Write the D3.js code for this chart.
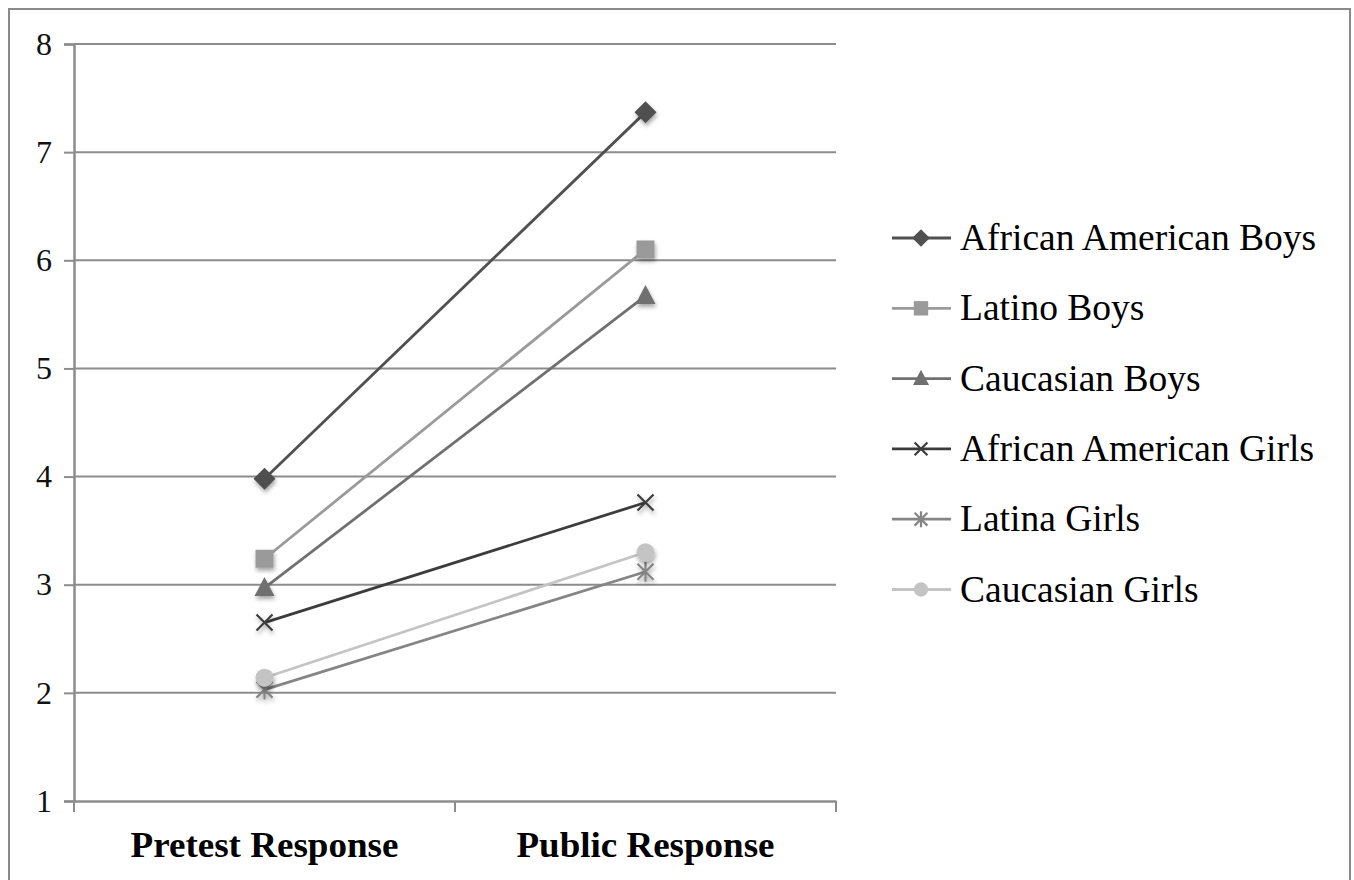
<!DOCTYPE html>
<html><head><meta charset="utf-8">
<script src="https://cdn.jsdelivr.net/npm/d3@7/dist/d3.min.js"></script>
<style>body{margin:0;background:#fff}svg{display:block}</style>
</head><body>
<svg id="c" width="1354" height="880"></svg>
<script>
const categories = ["Pretest Response", "Public Response"];
const seriesNames = ["African American Boys","Latino Boys","Caucasian Boys","African American Girls","Latina Girls","Caucasian Girls"];
const pretestValues = [3.98, 3.24, 2.97, 2.65, 2.03, 2.14];
const publicValues  = [7.37, 6.10, 5.67, 3.76, 3.12, 3.30];
const yTicks = [1,2,3,4,5,6,7,8];
const seriesColors = ["#505050","#9a9a9a","#707070","#3c3c3c","#858585","#c4c4c4"];
const seriesSymbols = ["diamond","square","triangle","x","star","circle"];

const svg = d3.select("#c");
const defs = svg.append("defs");
const f = defs.append("filter").attr("id","sh").attr("x","-50%").attr("y","-50%").attr("width","200%").attr("height","200%");
f.append("feDropShadow").attr("dx",1).attr("dy",3).attr("stdDeviation",2).attr("flood-color","#000").attr("flood-opacity",0.35);

// frame
svg.append("rect").attr("x",9).attr("y",9).attr("width",1341).attr("height",900)
  .attr("fill","none").attr("stroke","#8a8a8a").attr("stroke-width",2);

const L=74, R=836, T=44, B=801;
const y = d3.scaleLinear().domain([1,8]).range([B,T]);
const x = d3.scaleBand().domain(categories).range([L,R]);
const gridC = "#8c8c8c";

// gridlines
svg.append("g").selectAll("line").data(yTicks.filter(d=>d>1)).join("line")
  .attr("x1",L).attr("x2",R).attr("y1",d=>y(d)).attr("y2",d=>y(d))
  .attr("stroke",gridC).attr("stroke-width",2);

// y axis
const ya = svg.append("g").attr("transform",`translate(${L},0)`)
  .call(d3.axisLeft(y).tickValues(yTicks).tickSize(10).tickPadding(12).tickFormat(d3.format("d")));
ya.attr("font-family",null).attr("font-size",null);
ya.select(".domain").attr("stroke",gridC).attr("stroke-width",2.5);
ya.selectAll(".tick line").attr("stroke",gridC).attr("stroke-width",2);
ya.selectAll(".tick text")
  .style("font-family","'Liberation Serif', serif").style("font-size","32px").style("fill","#111");

// x axis
const xa = svg.append("g").attr("transform",`translate(0,${B})`)
  .call(d3.axisBottom(x).tickSize(0).tickPadding(0));
xa.select(".domain").attr("stroke",gridC).attr("stroke-width",2.5);
xa.selectAll(".tick text").attr("font-family","Liberation Serif, serif").attr("font-weight","bold")
  .attr("font-size",36).attr("fill","#000").attr("dy",0).attr("y",56)
  .attr("textLength",(d,i)=>i===0?268:258).attr("lengthAdjust","spacingAndGlyphs");
// category boundary ticks
const bounds = [L, L + x.bandwidth(), R];
svg.append("g").selectAll("line").data(bounds).join("line")
  .attr("x1",d=>d).attr("x2",d=>d).attr("y1",B).attr("y2",B+11)
  .attr("stroke",gridC).attr("stroke-width",2);

const cx = c => x(c) + x.bandwidth()/2;
const data = seriesNames.map((n,i)=>({name:n,color:seriesColors[i],sym:seriesSymbols[i],
  vals:[{c:categories[0],v:pretestValues[i]},{c:categories[1],v:publicValues[i]}]}));

function drawMarker(g, sym, color, s){
  s = s || 1;
  if(sym==="diamond") g.append("path").attr("d",`M0,${-11*s}L${11*s},0L0,${11*s}L${-11*s},0Z`).attr("fill",color);
  else if(sym==="square") g.append("rect").attr("x",-9*s).attr("y",-9*s).attr("width",18*s).attr("height",18*s).attr("fill",color);
  else if(sym==="triangle") g.append("path").attr("d",`M0,${-11*s}L${10*s},${8*s}L${-10*s},${8*s}Z`).attr("fill",color);
  else if(sym==="circle") g.append("circle").attr("r",9*s).attr("fill",color);
  else if(sym==="x") g.append("path").attr("d",`M${-8*s},${-8*s}L${8*s},${8*s}M${-8*s},${8*s}L${8*s},${-8*s}`).attr("stroke",color).attr("stroke-width",2.2);
  else if(sym==="star") g.append("path").attr("d",`M${-8*s},${-8*s}L${8*s},${8*s}M${-8*s},${8*s}L${8*s},${-8*s}M0,${-10*s}L0,${10*s}`).attr("stroke",color).attr("stroke-width",2.2);
}

const line = d3.line().x(d=>cx(d.c)).y(d=>y(d.v));
data.forEach(s=>{
  svg.append("path").datum(s.vals).attr("d",line).attr("fill","none")
    .attr("stroke",s.color).attr("stroke-width",2.8);
});
data.forEach(s=>{
  s.vals.forEach(d=>{
    const g = svg.append("g").attr("transform",`translate(${cx(d.c)},${y(d.v)})`).attr("filter","url(#sh)");
    drawMarker(g, s.sym, s.color, 1);
  });
});

// legend
const lg = svg.append("g");
data.forEach((s,i)=>{
  const yy = 238 + i*70.3;
  lg.append("line").attr("x1",892).attr("x2",951).attr("y1",yy).attr("y2",yy).attr("stroke",s.color).attr("stroke-width",2.8);
  const g = lg.append("g").attr("transform",`translate(921,${yy})`);
  drawMarker(g, s.sym, s.color, 0.8);
  lg.append("text").attr("x",960).attr("y",yy+12).attr("font-family","Liberation Serif, serif")
    .attr("font-size",37.5).attr("fill","#000").text(s.name);
});
</script>
</body></html>
